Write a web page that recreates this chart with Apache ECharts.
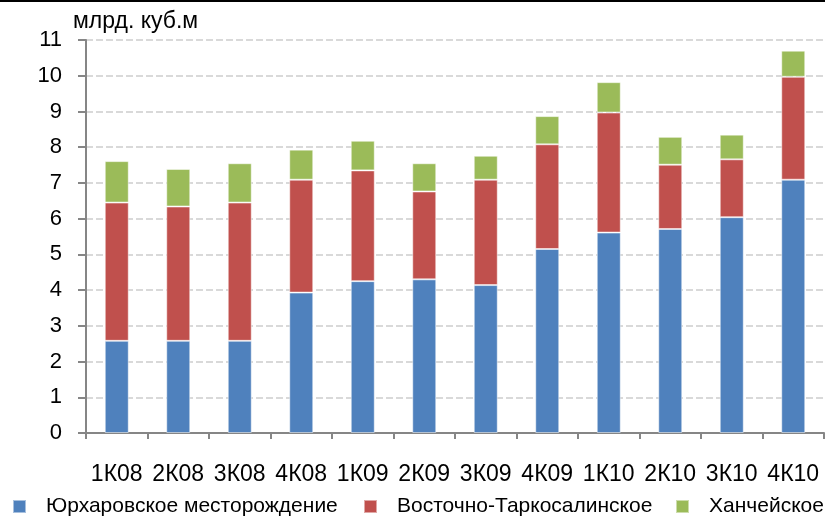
<!DOCTYPE html>
<html>
<head>
<meta charset="utf-8">
<script src="https://cdn.jsdelivr.net/npm/echarts@6/dist/echarts.min.js"></script>
<style>html,body{margin:0;padding:0;background:#fff}#c{width:825px;height:517px}</style>
</head>
<body>
<div id="c"></div>
<script>
var categories = ['1К08','2К08','3К08','4К08','1К09','2К09','3К09','4К09','1К10','2К10','3К10','4К10'];
var seriesNames = ['Юрхаровское месторождение','Восточно-Таркосалинское','Ханчейское'];
var yurkharovskoe = [2.58, 2.58, 2.58, 3.93, 4.25, 4.30, 4.14, 5.15, 5.61, 5.71, 6.04, 7.09];
var vostochnoTarko = [3.87, 3.76, 3.87, 3.16, 3.10, 2.46, 2.95, 2.93, 3.36, 1.80, 1.62, 2.88];
var khancheyskoe = [1.16, 1.05, 1.10, 0.84, 0.83, 0.79, 0.67, 0.79, 0.85, 0.78, 0.69, 0.73];
var yTicks = [0,1,2,3,4,5,6,7,8,9,10,11];
var unitLabel = 'млрд. куб.м';

var font = "'Liberation Sans', Arial, sans-serif";
var colors = ['#4F81BD','#C0504D','#9BBB59'];
var legendLefts = [12, 363, 675];
var chart = echarts.init(document.getElementById('c'));
var dataSets = [yurkharovskoe, vostochnoTarko, khancheyskoe];
chart.setOption({
  animation: false,
  color: colors,
  grid: {left: 86, right: 1, top: 40, bottom: 84, containLabel: false},
  legend: seriesNames.map(function(n, i){
    return {
      left: legendLefts[i], top: 496, padding: 0, itemWidth: 13, itemHeight: 13,
      icon: 'rect',
      textStyle: {fontFamily: font, fontSize: 21, color: '#000', padding: [0,0,0,15]},
      data: [n]
    };
  }),
  xAxis: {
    type: 'category', data: categories,
    axisLine: {lineStyle: {color: '#868686', width: 2}},
    axisTick: {show: true, length: 6, lineStyle: {color: '#868686', width: 2}},
    axisLabel: {fontFamily: font, fontSize: 23, color: '#000', margin: 30, interval: 0}
  },
  yAxis: {
    type: 'value', min: yTicks[0], max: yTicks[yTicks.length-1], interval: 1,
    axisLine: {show: true, lineStyle: {color: '#868686', width: 2}},
    axisTick: {show: true, length: 8, lineStyle: {color: '#868686', width: 2}},
    axisLabel: {fontFamily: font, fontSize: 22, color: '#000', margin: 24},
    splitLine: {show: true, lineStyle: {color: '#d9d9d9', width: 2, type: [7,3]}}
  },
  graphic: [
    {type: 'rect', shape: {x: 0, y: 0, width: 825, height: 2}, style: {fill: '#000'}},
    {type: 'text', left: 73, top: 10, style: {text: unitLabel, font: '23px ' + font, fill: '#000'}}
  ],
  series: dataSets.map(function(d, i){
    return {
      name: seriesNames[i], type: 'bar', stack: 'total', data: d, barWidth: 24,
      itemStyle: {color: colors[i], borderColor: 'rgba(255,255,255,0.5)', borderWidth: 1}
    };
  })
});
</script>
</body>
</html>
